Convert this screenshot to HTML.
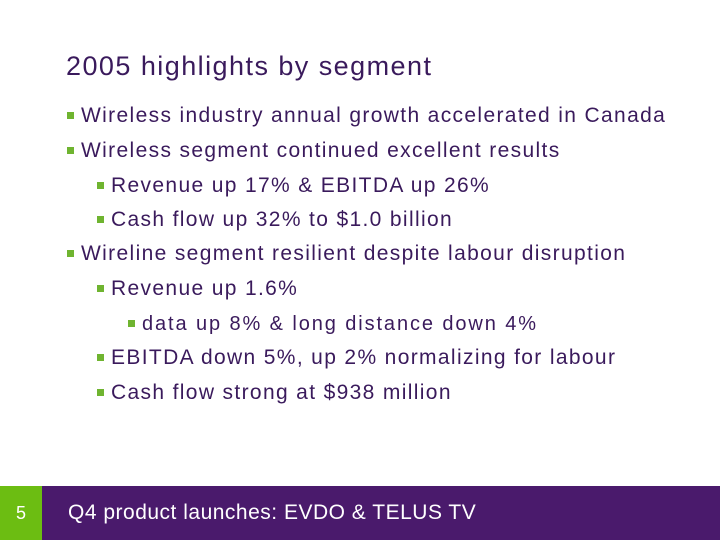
<!DOCTYPE html>
<html><head><meta charset="utf-8"><style>
body{margin:0;width:720px;height:540px;position:relative;background:#fff;font-family:"Liberation Sans",sans-serif;overflow:hidden}
.t{position:absolute;left:66px;top:51px;font-size:27px;letter-spacing:1.45px;color:#3a1a5c}
.l{position:absolute;font-size:21px;letter-spacing:1.35px;color:#3a1a5c;white-space:nowrap;line-height:24px}
.l .b{display:inline-block;width:7px;height:7px;background:#6fb430;margin-right:7px;vertical-align:3px}
.l.s3{font-size:20px;letter-spacing:1.9px}
.bar{position:absolute;left:0;top:486px;width:720px;height:54px;background:#4a1a6c}
.num{position:absolute;left:0;top:486px;width:42px;height:54px;background:#6cbd12;color:#fff;font-size:18px;text-align:center;line-height:54px}
.bt{position:absolute;left:68px;top:486px;line-height:54px;color:#fff;font-size:21px;letter-spacing:0.5px}
</style></head><body>
<div class="t">2005 highlights by segment</div>
<div class="l" style="left:67px;top:104px"><span class="b"></span>Wireless industry annual growth accelerated in Canada</div>
<div class="l" style="left:67px;top:139px"><span class="b"></span>Wireless segment continued excellent results</div>
<div class="l" style="left:97px;top:174px"><span class="b"></span>Revenue up 17% &amp; EBITDA up 26%</div>
<div class="l" style="left:97px;top:208px"><span class="b"></span>Cash flow up 32% to $1.0 billion</div>
<div class="l" style="left:67px;top:242px"><span class="b"></span>Wireline segment resilient despite labour disruption</div>
<div class="l" style="left:97px;top:277px"><span class="b"></span>Revenue up 1.6%</div>
<div class="l s3" style="left:128px;top:312px"><span class="b"></span>data up 8% &amp; long distance down 4%</div>
<div class="l" style="left:97px;top:346px"><span class="b"></span>EBITDA down 5%, up 2% normalizing for labour</div>
<div class="l" style="left:97px;top:381px"><span class="b"></span>Cash flow strong at $938 million</div>
<div class="bar"></div>
<div class="num">5</div>
<div class="bt">Q4 product launches: EVDO &amp; TELUS TV</div>
</body></html>
